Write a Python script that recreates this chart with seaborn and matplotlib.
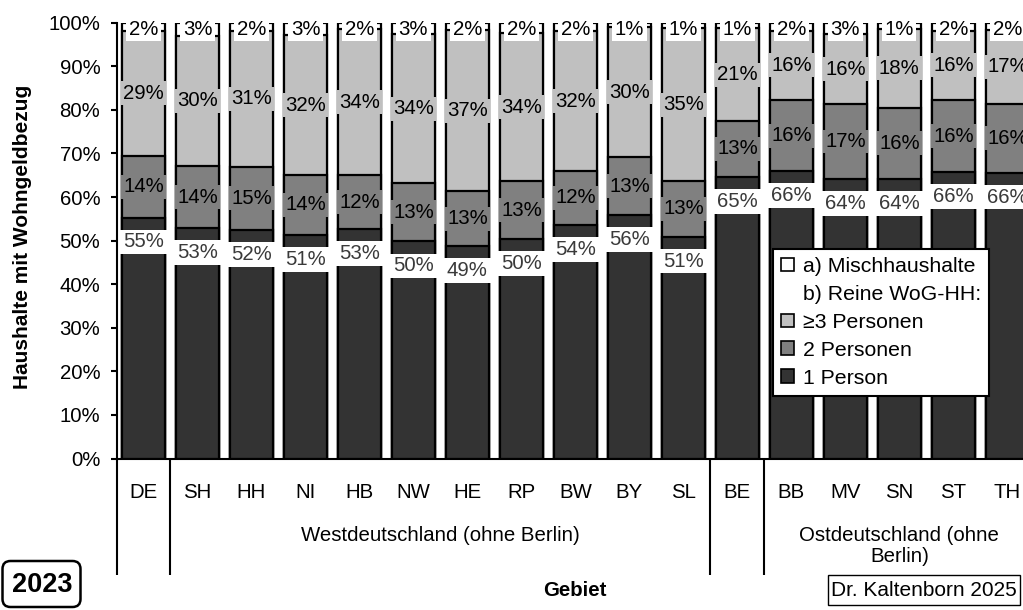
import numpy as np
import pandas as pd
import matplotlib
matplotlib.use("Agg")
import matplotlib.pyplot as plt
import matplotlib.transforms as mtrans
from matplotlib.patches import Patch, FancyBboxPatch
import seaborn as sns

# ---------------- data ----------------
regions = ["DE", "SH", "HH", "NI", "HB", "NW", "HE", "RP", "BW", "BY", "SL",
           "BE", "BB", "MV", "SN", "ST", "TH"]
one_person = [55.3, 52.8, 52.4, 51.3, 52.6, 49.8, 48.7, 50.3, 53.6, 55.8, 50.9,
              64.6, 65.9, 64.1, 64.1, 65.8, 65.6]
two_persons = [14.2, 14.4, 14.6, 13.8, 12.4, 13.4, 12.6, 13.3, 12.4, 13.4, 12.8,
               12.9, 16.4, 17.3, 16.4, 16.4, 15.8]
three_plus = [28.6, 29.8, 31.0, 32.0, 33.5, 34.1, 37.0, 34.0, 32.0, 29.7, 35.0,
              21.2, 15.9, 15.9, 18.1, 16.0, 17.0]
mixed = [1.9, 3.0, 2.0, 2.9, 1.5, 2.7, 1.7, 2.4, 2.0, 1.1, 1.3,
         1.3, 1.8, 2.7, 1.4, 1.8, 1.6]
group_labels = ["Westdeutschland (ohne Berlin)", "Ostdeutschland (ohne\nBerlin)"]
group_ranges = [(1, 10), (12, 16)]
separators = [0.5, 10.5, 11.5, 16.5]
legend_labels = ["a) Mischhaushalte", "b) Reine WoG-HH:", "≥3 Personen",
                 "2 Personen", "1 Person"]
ytick_vals = list(range(0, 101, 10))

# ---------------- style ----------------
sns.set_theme(style="white")
plt.rcParams["font.family"] = ["Liberation Sans", "DejaVu Sans"]

C_DARK, C_MID, C_LIGHT, C_WHITE = "#333333", "#808080", "#c0c0c0", "#ffffff"

df = pd.DataFrame({"region": regions, "one": one_person, "two": two_persons,
                   "three": three_plus, "mixed": mixed})
df["c1"] = df["one"]
df["c2"] = df["c1"] + df["two"]
df["c3"] = df["c2"] + df["three"]
df["c4"] = df["c3"] + df["mixed"]

fig = plt.figure(figsize=(10.23, 6.10), dpi=100)
ax = fig.add_axes([117 / 1023, 1 - 458.5 / 610, 1 - 117 / 1023, 435.8 / 610])

for col, colr in [("c4", C_WHITE), ("c3", C_LIGHT), ("c2", C_MID), ("c1", C_DARK)]:
    sns.barplot(data=df, x="region", y=col, order=regions, color=colr,
                saturation=1, edgecolor="black", linewidth=1.6, width=0.8,
                errorbar=None, ax=ax)

ax.set_xlim(-0.49, 16.29)
ax.set_ylim(0, 100)
ax.set_xlabel("")
ax.set_ylabel("")
ax.set_xticks([])
ax.set_yticks(ytick_vals)
ax.set_yticklabels([f"{v}%" for v in ytick_vals])
ax.tick_params(axis="y", direction="out", length=4.5, width=1.5,
               labelsize=14.7, pad=7.5, colors="black", left=True)
for s in ["top", "right"]:
    ax.spines[s].set_visible(False)
for s in ["left", "bottom"]:
    ax.spines[s].set_color("black")
    ax.spines[s].set_linewidth(1.5)

# ---------------- bar labels ----------------
fs_lab = 14.7
for i in range(len(regions)):
    r = df.iloc[i]
    ax.text(i, r["c1"] - 5.6, f"{r['one']:.0f}%", ha="center", va="center",
            fontsize=fs_lab, color="#3a3a3a", zorder=5,
            bbox=dict(boxstyle="square,pad=0.14", fc=C_WHITE, ec="none"))
    ax.text(i, (r["c1"] + r["c2"]) / 2, f"{r['two']:.0f}%", ha="center",
            va="center", fontsize=fs_lab, color="black", zorder=5,
            bbox=dict(boxstyle="square,pad=0.12", fc=C_MID, ec="none"))
    ax.text(i, (r["c2"] + r["c3"]) / 2, f"{r['three']:.0f}%", ha="center",
            va="center", fontsize=fs_lab, color="black", zorder=5,
            bbox=dict(boxstyle="square,pad=0.12", fc=C_LIGHT, ec="none"))
    ax.text(i, r["c4"] - 1.5, f"{r['mixed']:.0f}%", ha="center", va="center",
            fontsize=fs_lab, color="black", zorder=5,
            bbox=dict(boxstyle="square,pad=0.12", fc=C_WHITE, ec="none"))

# ---------------- category axis ----------------
trans = mtrans.blended_transform_factory(ax.transData, ax.transAxes)
for i, reg in enumerate(regions):
    ax.text(i, -0.0769, reg, transform=trans, ha="center", va="center",
            fontsize=14.7, color="black", clip_on=False)
for lab, (a, b) in zip(group_labels, group_ranges):
    yy = -0.1775 if "\n" not in lab else -0.2010
    ax.text((a + b) / 2, yy, lab, transform=trans, ha="center", va="center",
            fontsize=14.7, color="black", linespacing=1.12, clip_on=False)
xl = ax.get_xlim()[0]
for x in [xl] + separators:
    ax.plot([x, x], [0, -0.2673], transform=trans, color="black", lw=1.5,
            clip_on=False, solid_capstyle="butt")

# ---------------- titles / boxes ----------------
fig.text(23 / 1023, 1 - 236.5 / 610, "Haushalte mit Wohngeldbezug", rotation=90,
         ha="center", va="center", fontsize=15, fontweight="bold", color="black")
fig.text(575 / 1023, 1 - 591 / 610, "Gebiet", ha="center", va="center",
         fontsize=14.7, fontweight="bold", color="black")

box23 = FancyBboxPatch((0.025, 0.03), 0.78, 0.46,
                       boxstyle="round,pad=0,rounding_size=0.08",
                       transform=fig.dpi_scale_trans, fc="white", ec="black",
                       lw=1.8)
fig.patches.append(box23)
fig.text(42 / 1023, 1 - 585 / 610, "2023", ha="center", va="center",
         fontsize=19.5, fontweight="bold", color="black")

boxcr = FancyBboxPatch((8.28, 0.05), 1.92, 0.30, boxstyle="square,pad=0",
                       transform=fig.dpi_scale_trans, fc="white", ec="black",
                       lw=1.0)
fig.patches.append(boxcr)
fig.text(924 / 1023, 1 - 590 / 610, "Dr. Kaltenborn 2025", ha="center",
         va="center", fontsize=15, color="black")

# ---------------- legend ----------------
handles = [Patch(fc=C_WHITE, ec="black", lw=1.2),
           Patch(fc="none", ec="none"),
           Patch(fc=C_LIGHT, ec="black", lw=1.2),
           Patch(fc=C_MID, ec="black", lw=1.2),
           Patch(fc=C_DARK, ec="black", lw=1.2)]
leg = fig.legend(handles, legend_labels, loc="upper left",
                 bbox_to_anchor=(773 / 1023, 1 - 249 / 610),
                 bbox_transform=fig.transFigure, frameon=True, fancybox=False,
                 edgecolor="black", framealpha=1, fontsize=15.3,
                 handlelength=0.62, handleheight=0.62, handletextpad=0.4,
                 labelspacing=0.42, borderpad=0.38, borderaxespad=0)
leg.get_frame().set_linewidth(1.5)
for t in leg.get_texts():
    t.set_color("black")

fig.savefig("out.png", dpi=100)
